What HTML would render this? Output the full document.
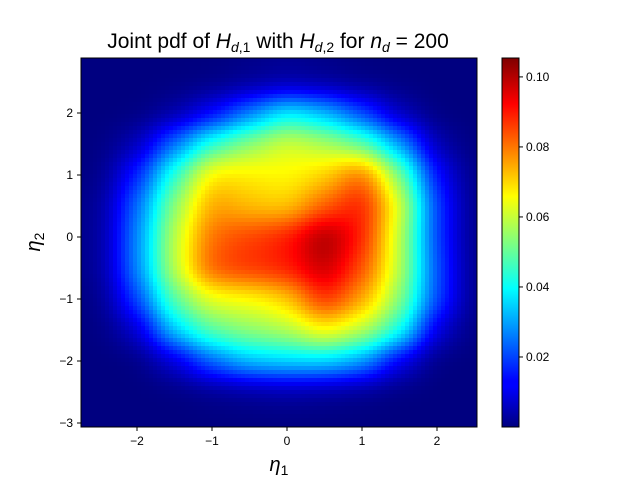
<!DOCTYPE html>
<html><head><meta charset="utf-8"><style>
body{margin:0;background:#fff;}
svg{font-family:"Liberation Sans","DejaVu Sans",sans-serif;}
</style></head><body>
<svg id="chart" width="640" height="480" viewBox="0 0 640 480">
<defs>
<clipPath id="plotclip"><rect x="81" y="58" width="396" height="369"/></clipPath>
<linearGradient id="jetgrad" x1="0" y1="1" x2="0" y2="0">
<stop offset="0" stop-color="#00007f"/><stop offset="0.11" stop-color="#0000ff"/>
<stop offset="0.125" stop-color="#0000ff"/><stop offset="0.375" stop-color="#00ffff"/>
<stop offset="0.625" stop-color="#ffff00"/><stop offset="0.875" stop-color="#ff0000"/>
<stop offset="1" stop-color="#7f0000"/></linearGradient>
</defs>
<text x="278" y="48" font-size="21" text-anchor="middle">Joint pdf of <tspan font-style="italic">H</tspan><tspan font-size="14" dy="4" font-style="italic">d</tspan><tspan font-size="14">,1</tspan><tspan dy="-4"> with </tspan><tspan font-style="italic">H</tspan><tspan font-size="14" dy="4" font-style="italic">d</tspan><tspan font-size="14">,2</tspan><tspan dy="-4"> for </tspan><tspan font-style="italic">n</tspan><tspan font-size="14" dy="4" font-style="italic">d</tspan><tspan dy="-4"> = 200</tspan></text>
<rect x="81" y="58" width="396" height="369" fill="#00007f"/>
<g clip-path="url(#plotclip)"><g id="cells" shape-rendering="crispEdges"></g></g>
<rect x="81" y="58" width="396" height="369" fill="none" stroke="#000" stroke-width="1"/>
<g id="xaxis"></g>
<g id="yaxis"></g>
<text x="279" y="471" font-size="20" text-anchor="middle" font-style="italic">η<tspan font-size="14" dy="4" font-style="normal">1</tspan></text>
<text transform="translate(40,242) rotate(-90)" font-size="20" text-anchor="middle" font-style="italic">η<tspan font-size="14" dy="4" font-style="normal">2</tspan></text>
<rect x="502" y="58" width="17" height="369" fill="url(#jetgrad)" stroke="#000" stroke-width="1"/>
<g id="cbaxis"></g>
</svg>
<script>
const xCenters=[-2.5,-2,-1.5,-1,-0.5,0,0.5,1,1.5,2,2.5];
const yCenters=[2.5,2,1.5,1,0.5,0,-0.5,-1,-1.5,-2,-2.5,-3];
const densityRows=[
[0,0,0,0,0.001,0.002,0.001,0,0,0,0],
[0,0,0.003,0.012,0.026,0.04,0.033,0.02,0.005,0,0],
[0,0.005,0.025,0.045,0.055,0.063,0.058,0.05,0.03,0.004,0],
[0,0.016,0.045,0.07,0.068,0.066,0.07,0.084,0.054,0.013,0],
[0.001,0.024,0.055,0.077,0.072,0.07,0.082,0.092,0.064,0.018,0],
[0.001,0.027,0.06,0.082,0.086,0.09,0.104,0.09,0.06,0.018,0],
[0.001,0.027,0.06,0.085,0.088,0.09,0.1,0.085,0.06,0.02,0],
[0,0.02,0.05,0.064,0.065,0.07,0.09,0.076,0.055,0.02,0],
[0,0.007,0.036,0.05,0.055,0.058,0.068,0.06,0.044,0.008,0],
[0,0,0.008,0.024,0.034,0.036,0.036,0.03,0.01,0,0],
[0,0,0,0.001,0.002,0.003,0.002,0.001,0,0,0],
[0,0,0,0,0,0,0,0,0,0,0]];
const xTicks=[-2,-1,0,1,2];
const yTicks=[-3,-2,-1,0,1,2];
const cbTicks=[0.02,0.04,0.06,0.08,0.10];
const vMin=0, vMax=0.1054;
const NS='http://www.w3.org/2000/svg';
const xs=v=>287+75*v, ys=v=>237-62*v, cs=v=>427-369*(v-vMin)/(vMax-vMin);
const xinv=p=>(p-287)/75, yinv=p=>(237-p)/62;
function jet(t){t=Math.max(0,Math.min(1,t));
 const f=x=>Math.max(0,Math.min(1,x));
 const r=f(1.5-Math.abs(4*t-3)),g=f(1.5-Math.abs(4*t-2)),b=f(1.5-Math.abs(4*t-1));
 return `rgb(${Math.round(r*255)},${Math.round(g*255)},${Math.round(b*255)})`;}
function field(x,y){let s=0,k=0;const sg=0.26;
 densityRows.forEach((row,i)=>row.forEach((v,j)=>{
  const dx=x-xCenters[j],dy=y-yCenters[i];
  const w=Math.exp(-(dx*dx+dy*dy)/(2*sg*sg));s+=w*v;k+=w;}));
 return k>0?s/k:0;}
const cells=document.getElementById('cells');
const step=4;
for(let py=58;py<427;py+=step){for(let px=81;px<477;px+=step){
 const v=field(xinv(px+step/2),yinv(py+step/2));
 const r=document.createElementNS(NS,'rect');
 r.setAttribute('x',px);r.setAttribute('y',py);r.setAttribute('width',step);r.setAttribute('height',step);
 r.setAttribute('fill',jet((v-vMin)/(vMax-vMin)));
 
 
 cells.appendChild(r);}}
function mk(parent,tag,attrs,txt){const e=document.createElementNS(NS,tag);for(const k in attrs)e.setAttribute(k,attrs[k]);if(txt!==undefined)e.textContent=txt;parent.appendChild(e);return e;}
const xa=document.getElementById('xaxis');
xTicks.forEach(t=>{const x=xs(t);
 const l=mk(xa,'line',{x1:x,x2:x,y1:427,y2:431,stroke:'#000'});
 
 
 const tx=mk(xa,'text',{x:x,y:445,'font-size':12,'text-anchor':'middle'},t<0?'−'+(-t):String(t));
 
 });
const ya=document.getElementById('yaxis');
yTicks.forEach(t=>{const y=ys(t);
 const l=mk(ya,'line',{x1:77,x2:81,y1:y,y2:y,stroke:'#000'});
 
 
 const tx=mk(ya,'text',{x:73,y:y+4,'font-size':12,'text-anchor':'end'},t<0?'−'+(-t):String(t));
 
 });
const ca=document.getElementById('cbaxis');
cbTicks.forEach(t=>{const y=cs(t);
 const l=mk(ca,'line',{x1:519,x2:523,y1:y,y2:y,stroke:'#000'});
 
 
 const tx=mk(ca,'text',{x:526,y:y+4,'font-size':12},t.toFixed(2));
 
 });
</script>
</body></html>
